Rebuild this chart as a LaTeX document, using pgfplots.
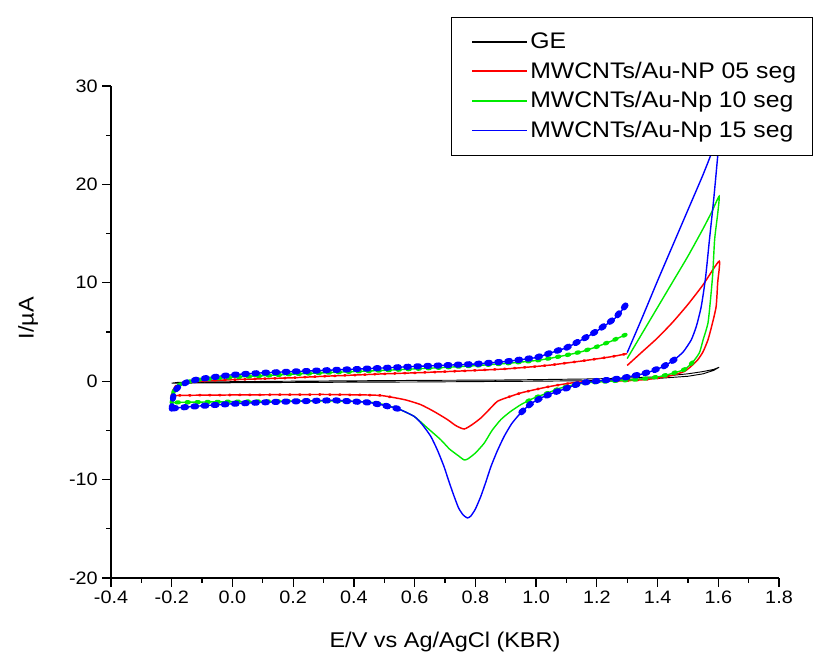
\documentclass[border=0pt]{standalone}
\usepackage{fontspec}
\setmainfont[FakeStretch=1.1]{Liberation Sans}
\usepackage{pgfplots}
\usepackage{pgfplotstable}
\pgfplotsset{compat=1.18}
\definecolor{cvred}{RGB}{255,0,0}
\definecolor{cvgreen}{RGB}{0,235,0}
\definecolor{cvblue}{RGB}{0,0,255}

\pgfplotstableread{
E I
-0.2 -0.2
-0.18 -0.12
-0.1 -0.08
0 -0.05
0.2 0.0
0.4 0.04
0.6 0.08
0.88 0.12
1.0 0.16
1.2 0.24
1.3 0.32
1.4 0.45
1.5 0.75
1.55 0.98
1.585 1.2
1.603 1.42
1.585 1.1
1.55 0.75
1.5 0.5
1.4 0.28
1.3 0.15
1.2 0.06
1.0 0.0
0.8 -0.04
0.6 -0.08
0.4 -0.1
0.2 -0.13
0 -0.16
-0.2 -0.2
}\gedata

\pgfplotstableread{
E I
-0.2 -1.5
-0.196 -0.9
-0.186 -0.5
-0.172 -0.3
-0.15 -0.15
-0.12 -0.05
-0.08 0.05
0 0.15
0.1 0.25
0.2 0.35
0.3 0.5
0.4 0.62
0.5 0.75
0.6 0.85
0.7 0.97
0.8 1.1
0.9 1.25
1.0 1.5
1.05 1.65
1.1 1.85
1.15 2.05
1.2 2.27
1.25 2.5
1.3 2.8
1.3 nan
1.3 1.6
1.35 3.0
1.4 4.4
1.45 6.0
1.5 7.8
1.55 9.8
1.603 12.2
1.598 10.0
1.593 7.6
1.58 5.8
1.566 4.2
1.55 3.0
1.533 2.2
1.51 1.5
1.489 1.0
1.46 0.7
1.434 0.5
1.4 0.32
1.357 0.16
1.3 0.05
1.25 0.0
1.2 -0.03
1.137 -0.1
1.08 -0.35
1.038 -0.58
0.99 -0.9
0.95 -1.19
0.91 -1.6
0.873 -2.04
0.845 -2.9
0.818 -3.74
0.79 -4.4
0.763 -4.86
0.735 -4.5
0.708 -3.9
0.665 -3.1
0.62 -2.38
0.57 -1.9
0.52 -1.6
0.488 -1.45
0.44 -1.4
0.3 -1.35
0.1 -1.38
0 -1.4
-0.1 -1.42
-0.18 -1.45
-0.2 -1.5
}\reddata

\pgfplotstableread{
E I
-0.2 -2.2
-0.198 -1.5
-0.192 -0.9
-0.18 -0.45
-0.16 -0.15
-0.13 0.05
-0.1 0.2
0 0.4
0.1 0.55
0.2 0.72
0.3 0.85
0.4 0.98
0.5 1.1
0.6 1.25
0.7 1.4
0.8 1.58
0.9 1.8
1.0 2.1
1.05 2.35
1.1 2.65
1.15 3.0
1.2 3.5
1.25 4.1
1.3 4.8
1.3 nan
1.3 2.3
1.35 4.9
1.4 7.5
1.45 10.1
1.5 12.7
1.55 15.5
1.58 17.3
1.603 18.8
1.598 17.0
1.588 14.4
1.582 11.0
1.575 8.5
1.566 5.9
1.55 4.2
1.538 2.9
1.515 1.9
1.489 1.2
1.45 0.8
1.412 0.5
1.37 0.3
1.324 0.16
1.27 0.05
1.22 -0.05
1.17 -0.15
1.126 -0.35
1.08 -0.7
1.038 -1.2
0.99 -1.75
0.95 -2.38
0.915 -3.1
0.884 -3.9
0.855 -5.0
0.829 -6.3
0.8 -7.3
0.775 -7.9
0.763 -8.0
0.745 -7.6
0.715 -6.9
0.686 -5.95
0.64 -4.7
0.598 -3.57
0.545 -2.8
0.488 -2.3
0.44 -2.1
0.3 -2.0
0.1 -2.05
0 -2.08
-0.1 -2.12
-0.18 -2.15
-0.2 -2.2
}\greendata

\pgfplotstableread{
E I
-0.2 -2.8
-0.198 -2.0
-0.193 -1.3
-0.185 -0.8
-0.17 -0.4
-0.15 -0.1
-0.12 0.15
-0.08 0.35
0 0.65
0.1 0.85
0.2 0.98
0.3 1.1
0.4 1.22
0.5 1.35
0.6 1.5
0.7 1.62
0.8 1.75
0.9 2.0
1.0 2.4
1.04 2.8
1.1 3.4
1.15 4.2
1.2 5.1
1.26 6.4
1.3 7.9
1.3 nan
1.3 2.9
1.35 6.5
1.4 10.2
1.45 13.8
1.5 17.4
1.55 21.0
1.58 23.4
1.603 26.0
1.602 25.0
1.599 23.2
1.585 18.5
1.571 14.4
1.558 10.5
1.544 7.6
1.528 5.6
1.511 4.2
1.485 3.0
1.456 2.2
1.42 1.5
1.379 1.0
1.345 0.7
1.313 0.5
1.28 0.3
1.247 0.16
1.2 0.02
1.148 -0.17
1.104 -0.68
1.06 -1.15
1.016 -1.7
0.98 -2.35
0.95 -3.2
0.92 -4.3
0.895 -5.6
0.872 -7.1
0.851 -8.7
0.835 -10.2
0.818 -11.7
0.8 -13.0
0.785 -13.7
0.774 -13.9
0.76 -13.6
0.745 -12.9
0.73 -11.7
0.713 -10.2
0.697 -8.7
0.675 -7.0
0.653 -5.6
0.625 -4.4
0.598 -3.57
0.545 -2.8
0.488 -2.38
0.444 -2.15
0.334 -1.94
0.2 -2.05
0.1 -2.15
0 -2.3
-0.1 -2.5
-0.18 -2.7
-0.2 -2.8
}\bluedata

\begin{document}
\begin{tikzpicture}
\path[use as bounding box] (-83.25pt,-55.5pt) rectangle (526.5pt,433.5pt);
\begin{axis}[
  at={(0,0)}, anchor=south west,
  scale only axis, width=501pt, height=369pt,
  xmin=-0.4, xmax=1.8, ymin=-20, ymax=30,
  axis x line*=bottom, axis y line*=left,
  axis line style={line width=0.9pt},
  tick align=outside,
  major tick length=6.5pt, minor tick length=3.5pt,
  every tick/.style={black, line width=0.9pt},
  xtick={-0.4,-0.2,0,0.2,0.4,0.6,0.8,1.0,1.2,1.4,1.6,1.8},
  ytick={-20,-10,0,10,20,30},
  minor x tick num=1, minor y tick num=1,
  xticklabel style={/pgf/number format/.cd, fixed, fixed zerofill, precision=1, assume math mode=true},
  yticklabel style={/pgf/number format/assume math mode=true},
  ticklabel style={font=\fontsize{13.5}{16}\selectfont},
  xlabel={E/V vs Ag/AgCl (KBR)},
  ylabel={I/µA},
  every axis x label/.style={at={(axis description cs:0.5,-0.1295)}, anchor=center, font=\fontsize{16}{19}\selectfont},
  every axis y label/.style={at={(axis description cs:-0.124,0.528)}, rotate=90, anchor=center, font=\fontsize{16}{19}\selectfont},
  unbounded coords=jump,
  legend cell align=left,
  legend image code/.code={\path (0pt,0pt); \draw[#1, line width=1.2pt] (5pt,0pt) -- (46pt,0pt);},
  legend style={at={(axis description cs:0.509,1.140)}, anchor=north west,
    draw, line width=0.6pt, fill=white,
    font=\fontsize{16.9}{19}\selectfont,
    inner xsep=10pt, inner ysep=9.5pt, row sep=4.5pt,
    /tikz/every even column/.append style={column sep=5.5pt}},
]
\addplot[draw=black, line width=0.7pt] table[x=E, y=I] {\gedata};
\addlegendentry{GE}
\addplot[draw=cvred, line width=1.1pt, smooth, tension=0.35] table[x=E, y=I] {\reddata};
\addlegendentry{MWCNTs/Au-NP 05 seg}
\addplot[draw=cvgreen, line width=1.05pt, smooth, tension=0.35] table[x=E, y=I] {\greendata};
\addlegendentry{MWCNTs/Au-Np 10 seg}
\addplot[draw=cvblue, line width=1.05pt, smooth, tension=0.35] table[x=E, y=I] {\bluedata};
\addlegendentry{MWCNTs/Au-Np 15 seg}
% beaded look of the noisy flat parts
\addplot[forget plot, draw=cvred, line width=1.9pt, dash pattern=on 1pt off 6.5pt, line cap=round,
  x filter/.expression={(\coordindex<24 || \coordindex>40) ? x : nan},
  restrict y to domain=-1.7:3] table[x=E, y=I] {\reddata};
\addplot[forget plot, draw=cvgreen, line width=3.1pt, dash pattern=on 1.6pt off 5.9pt, line cap=round,
  x filter/.expression={(\coordindex<24 || \coordindex>39) ? x : nan},
  restrict y to domain=-3:5] table[x=E, y=I] {\greendata};
\addplot[forget plot, draw=cvblue, line width=4.5pt, dash pattern=on 2pt off 5.6pt, line cap=round,
  x filter/.expression={(\coordindex<26 || \coordindex>42) ? x : nan},
  restrict y to domain=-3.2:8.2] table[x=E, y=I] {\bluedata};
\end{axis}
\end{tikzpicture}
\end{document}
